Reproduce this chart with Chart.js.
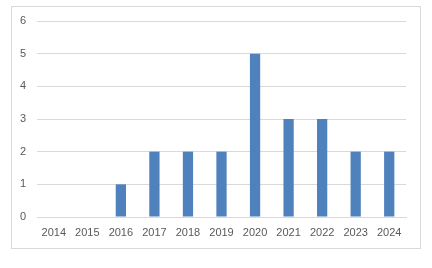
<!DOCTYPE html>
<html><head><meta charset="utf-8">
<script src="https://cdn.jsdelivr.net/npm/chart.js@4/dist/chart.umd.min.js"></script>
<style>
html,body{margin:0;padding:0;background:#fff;width:432px;height:268px;overflow:hidden}
#frame{position:absolute;left:11px;top:6px;width:408px;height:241px;border:1px solid #d9d9d9;box-sizing:content-box}
#wrap{position:absolute;left:0;top:0;width:432px;height:268px}
</style></head><body>
<div id="frame"></div>
<div id="wrap"><canvas id="c" width="432" height="268"></canvas></div>
<script>
const categories = ["2014","2015","2016","2017","2018","2019","2020","2021","2022","2023","2024"];
const values = [0,0,1,2,2,2,5,3,3,2,2];
const yTicks = [0,1,2,3,4,5,6];

new Chart(document.getElementById('c'), {
  type: 'bar',
  data: { labels: categories, datasets: [{ data: values, backgroundColor: '#4f81bd', barPercentage: 0.9, categoryPercentage: 0.34 }] },
  options: {
    responsive: false, animation: false, devicePixelRatio: 1,
    layout: { padding: { top: 21, right: 26, left: 0, bottom: 0 } },
    plugins: { legend: { display: false }, tooltip: { enabled: false } },
    scales: {
      x: {
        grid: { display: false, drawTicks: false },
        border: { display: true, color: '#d9d9d9' },
        ticks: { color: '#595959', font: { family: 'Liberation Sans', size: 11 }, padding: 9, maxRotation: 0, autoSkip: false },
        afterFit: s => { s.height = 51; }
      },
      y: {
        min: 0, max: 6,
        afterBuildTicks: s => { s.ticks = yTicks.map(v => ({ value: v })); },
        grid: { color: '#d9d9d9', drawTicks: false },
        border: { display: false },
        ticks: { color: '#595959', font: { family: 'Liberation Sans', size: 11 }, padding: 11 },
        afterFit: s => { s.width = 37; }
      }
    }
  }
});
</script>
</body></html>
